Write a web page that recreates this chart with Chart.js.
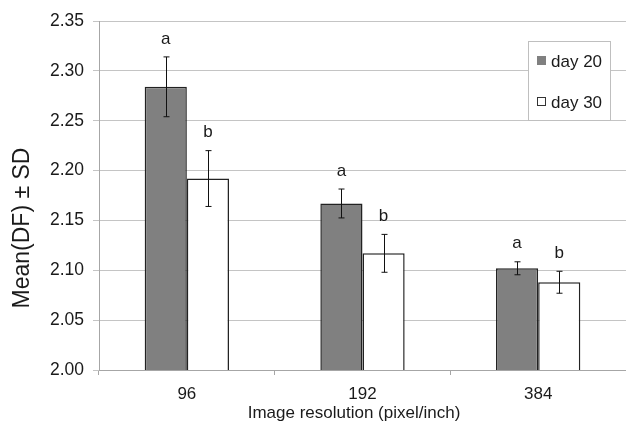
<!DOCTYPE html>
<html>
<head>
<meta charset="utf-8">
<script src="https://cdn.jsdelivr.net/npm/chart.js@4"></script>
<style>
  body { margin: 0; background: #fff; }
  #wrap { width: 626px; height: 428px; }
</style>
</head>
<body>
<div id="wrap"><canvas id="dfChart" width="626" height="428"></canvas></div>
<script>
// resolution categories
var resolutions = ['96', '192', '384'];

// mean DF values
var day20 = [2.284, 2.167, 2.102];
var day30 = [2.192, 2.117, 2.088];

// standard deviations
var day20Sd = [0.030, 0.0145, 0.0065];
var day30Sd = [0.028, 0.019, 0.011];

// significance letters
var day20Letters = ['a', 'a', 'a'];
var day30Letters = ['b', 'b', 'b'];

var seriesLabels = ['day 20', 'day 30'];
var yTicks = [2.00, 2.05, 2.10, 2.15, 2.20, 2.25, 2.30, 2.35];

var FONT = '"Liberation Sans", Arial, sans-serif';
var TEXT = '#1a1a1a';

// error bars + letters, drawn through the chart scales
var errorBarPlugin = {
    id: 'errorBars',
    afterDatasetsDraw: function(chart) {
        var ctx = chart.ctx;
        var y = chart.scales.y;
        var sds = [day20Sd, day30Sd];
        var letters = [day20Letters, day30Letters];
        ctx.save();
        ctx.strokeStyle = '#111';
        ctx.lineWidth = 1;
        ctx.fillStyle = TEXT;
        ctx.font = '17px ' + FONT;
        ctx.textAlign = 'center';
        ctx.textBaseline = 'middle';
        chart.data.datasets.forEach(function(ds, di) {
            var meta = chart.getDatasetMeta(di);
            meta.data.forEach(function(bar, i) {
                var x = Math.round(bar.x) + 0.5;
                var top = y.getPixelForValue(ds.data[i] + sds[di][i]);
                var bot = y.getPixelForValue(ds.data[i] - sds[di][i]);
                ctx.beginPath();
                ctx.moveTo(x, top);
                ctx.lineTo(x, bot);
                ctx.moveTo(x - 3, top);
                ctx.lineTo(x + 3, top);
                ctx.moveTo(x - 3, bot);
                ctx.lineTo(x + 3, bot);
                ctx.stroke();
                ctx.fillText(letters[di][i], bar.x, top - 18);
            });
        });
        ctx.restore();
    }
};

// legend box + axis titles
var decorPlugin = {
    id: 'decor',
    afterDraw: function(chart) {
        var ctx = chart.ctx;
        ctx.save();
        // legend
        ctx.fillStyle = '#fff';
        ctx.fillRect(528.5, 41.5, 82, 79);
        ctx.strokeStyle = '#bfbfbf';
        ctx.lineWidth = 1;
        ctx.strokeRect(528.5, 41.5, 82, 79);
        var rows = [61, 102];
        chart.data.datasets.forEach(function(ds, di) {
            ctx.fillStyle = ds.backgroundColor;
            ctx.fillRect(537.5, rows[di] - 4.5, 8, 8);
            ctx.strokeStyle = di === 0 ? '#808080' : '#333';
            ctx.strokeRect(537.5, rows[di] - 4.5, 8, 8);
            ctx.fillStyle = TEXT;
            ctx.font = '17px ' + FONT;
            ctx.textAlign = 'left';
            ctx.textBaseline = 'middle';
            ctx.fillText(ds.label, 551, rows[di] + 1);
        });
        // x title
        ctx.fillStyle = TEXT;
        ctx.font = '17px ' + FONT;
        ctx.textAlign = 'center';
        ctx.textBaseline = 'middle';
        ctx.fillText('Image resolution (pixel/inch)', 354, 413);
        // y title
        ctx.translate(23, 228);
        ctx.rotate(-Math.PI / 2);
        ctx.font = '23px ' + FONT;
        ctx.fillText('Mean(DF) \u00b1 SD', 0, 0);
        ctx.restore();
    }
};

var ctx = document.getElementById('dfChart').getContext('2d');
var dfChart = new Chart(ctx, {
    type: 'bar',
    data: {
        labels: resolutions,
        datasets: [{
            label: seriesLabels[0],
            data: day20,
            backgroundColor: '#808080',
            borderColor: '#222',
            borderWidth: 1.5,
            borderSkipped: false
        }, {
            label: seriesLabels[1],
            data: day30,
            backgroundColor: '#ffffff',
            borderColor: '#222',
            borderWidth: 1.5,
            borderSkipped: false
        }]
    },
    options: {
        responsive: false,
        animation: false,
        layout: { padding: { top: 21, right: 0, bottom: 0, left: 0 } },
        datasets: { bar: { categoryPercentage: 0.48, barPercentage: 1.0 } },
        scales: {
            x: {
                afterFit: function(scale) { scale.height = 58; },
                grid: { offset: true, drawOnChartArea: false, color: '#a6a6a6', tickLength: 5 },
                border: { color: '#a6a6a6' },
                ticks: { color: TEXT, font: { family: FONT, size: 17 }, padding: 9 }
            },
            y: {
                min: 2.00,
                max: 2.35,
                afterFit: function(scale) { scale.width = 99; },
                afterBuildTicks: function(scale) {
                    scale.ticks = yTicks.map(function(v) { return { value: v }; });
                },
                grid: { color: '#c4c4c4', tickLength: 6 },
                border: { color: '#a6a6a6' },
                ticks: {
                    color: TEXT,
                    font: { family: FONT, size: 17.5 },
                    padding: 9,
                    callback: function(v) { return Number(v).toFixed(2); }
                }
            }
        },
        plugins: {
            legend: { display: false },
            tooltip: { enabled: false }
        }
    },
    plugins: [errorBarPlugin, decorPlugin]
});
</script>
</body>
</html>
